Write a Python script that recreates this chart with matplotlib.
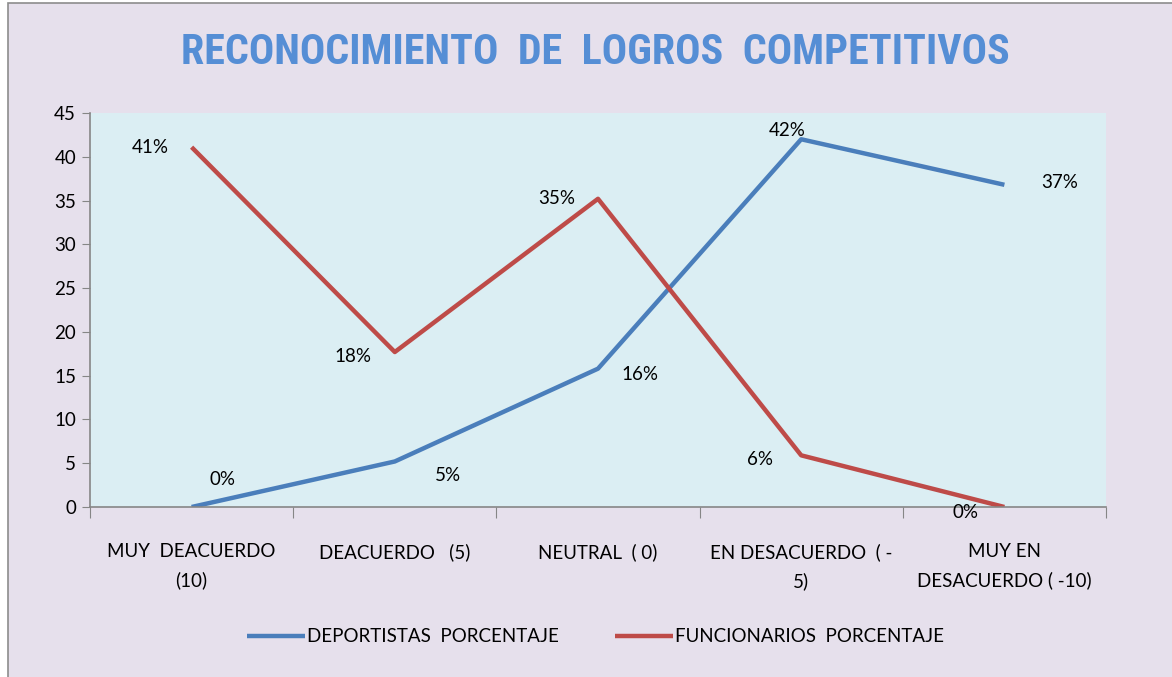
import matplotlib.pyplot as plt
from matplotlib.patches import Rectangle
from matplotlib import font_manager

categories = ['MUY  DEACUERDO\n(10)', 'DEACUERDO   (5)', 'NEUTRAL  ( 0)',
              'EN DESACUERDO  ( -\n5)', 'MUY EN\nDESACUERDO ( -10)']
deportistas = [0, 5.2, 15.8, 42.0, 36.8]
funcionarios = [41.1, 17.7, 35.2, 5.9, 0]
dep_labels = ['0%', '5%', '16%', '42%', '37%']
fun_labels = ['41%', '18%', '35%', '6%', '0%']

names = {f.name for f in font_manager.fontManager.ttflist}
narrow = [n for n in ['Liberation Sans Narrow', 'Roboto Condensed', 'DejaVu Sans Condensed']
          if n in names]
title_fam = narrow[0] if narrow else 'DejaVu Sans'
body_fam = 'Lato' if 'Lato' in names else 'DejaVu Sans'
plt.rcParams['font.family'] = [body_fam, 'DejaVu Sans']
fs = 13.5

fig = plt.figure(figsize=(11.72, 6.77), dpi=100, facecolor='white')
fig.patches.append(Rectangle((8 / 1172, -0.01), 1.0, 1 - 3 / 677 + 0.01,
                             transform=fig.transFigure, facecolor='#E6E0EC',
                             edgecolor='#8C8C8C', linewidth=1.2, zorder=-1))

ax = fig.add_axes([90 / 1172, 1 - 507 / 677, (1106 - 90) / 1172, (507 - 113) / 677])
ax.set_facecolor('#DBEEF3')

x = range(len(categories))
ax.plot(x, deportistas, color='#4A7EBB', lw=3.2, label='DEPORTISTAS  PORCENTAJE', solid_capstyle='butt')
ax.plot(x, funcionarios, color='#BE4B48', lw=3.2, label='FUNCIONARIOS  PORCENTAJE', solid_capstyle='butt')

# label offsets in points
dep_off = [(22, 20), (38, -10), (30, -4), (-10, 6), (40, 2)]
fun_off = [(-30, 0), (-30, -3), (-30, 0), (-30, -3), (-28, -4)]
for i, (v, t) in enumerate(zip(deportistas, dep_labels)):
    ax.annotate(t, (i, v), xytext=dep_off[i], textcoords='offset points',
                ha='center', va='center', fontsize=fs, color='black')
for i, (v, t) in enumerate(zip(funcionarios, fun_labels)):
    ax.annotate(t, (i, v), xytext=fun_off[i], textcoords='offset points',
                ha='center', va='center', fontsize=fs, color='black')

ax.set_xlim(-0.5, 4.5)
ax.set_ylim(0, 45)
ax.set_yticks(range(0, 46, 5))
ax.set_xticks([i - 0.5 for i in range(6)])
ax.set_xticklabels([])
ax.set_xticks(list(x), minor=True)
ax.set_xticklabels(categories, minor=True, fontsize=fs, linespacing=1.75)
ax.tick_params(axis='x', which='minor', length=0, pad=26)
ax.tick_params(axis='x', which='major', length=8, color='#868686', direction='out')
ax.tick_params(axis='y', length=6, color='#868686', labelsize=fs, pad=4)

for s in ['top', 'right']:
    ax.spines[s].set_visible(False)
for s in ['left', 'bottom']:
    ax.spines[s].set_color('#868686')
    ax.spines[s].set_linewidth(1.2)

title = fig.text(0.508, 0.922, 'RECONOCIMIENTO  DE  LOGROS  COMPETITIVOS', ha='center', va='center',
                 fontsize=28, color='#558ED5', family=[title_fam, 'DejaVu Sans'],
                 fontweight='bold')
# scale the title to the reference width (about 830 px)
fig.canvas.draw()
w = title.get_window_extent().width
title.set_fontsize(28 * 830 / w)

ax.legend(loc='center', bbox_to_anchor=(0.508, 1 - 637 / 677), bbox_transform=fig.transFigure,
          ncol=2, frameon=False, fontsize=fs, handlelength=3.1, handletextpad=0.1,
          columnspacing=3.0)

fig.savefig('out.png', dpi=100)
